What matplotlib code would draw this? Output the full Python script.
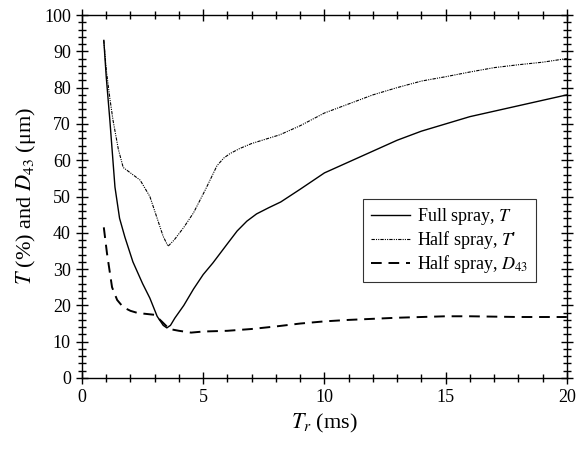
import numpy as np
import matplotlib
matplotlib.use('Agg')
import matplotlib.pyplot as plt
from matplotlib.ticker import MultipleLocator

plt.rcParams['font.family'] = ['Liberation Serif', 'STIXGeneral', 'DejaVu Serif']
plt.rcParams['mathtext.fontset'] = 'stix'

# Full spray, T
tr_full = [0.9, 1.0, 1.15, 1.36, 1.55, 1.77, 2.1, 2.5, 2.8, 3.1, 3.35, 3.5, 3.65, 3.83, 4.2, 4.6, 5.0, 5.4, 6.0, 6.4, 6.8, 7.2, 7.7, 8.2, 9.0, 10.0, 11.0, 12.0, 13.0, 14.0, 15.0, 16.0, 17.0, 18.0, 19.0, 20.0]
t_full = [93.0, 83.0, 71.0, 52.6, 44.0, 38.8, 32.0, 26.0, 22.0, 17.0, 14.5, 13.8, 14.5, 16.5, 20.0, 24.5, 28.5, 31.7, 37.0, 40.5, 43.2, 45.2, 46.9, 48.5, 52.0, 56.5, 59.5, 62.5, 65.5, 68.0, 70.0, 72.0, 73.5, 75.0, 76.5, 78.0]

# Half spray, T'
tr_half = [0.9, 1.0, 1.15, 1.28, 1.5, 1.7, 2.0, 2.4, 2.8, 3.1, 3.35, 3.55, 3.8, 4.2, 4.6, 5.1, 5.57, 5.85, 6.1, 6.5, 7.0, 8.16, 9.0, 10.0, 11.0, 12.0, 13.0, 14.0, 15.0, 16.0, 17.0, 18.0, 19.0, 20.0]
t_half = [93.0, 85.0, 77.0, 71.0, 63.0, 58.0, 56.5, 54.5, 50.0, 44.0, 39.0, 36.3, 38.0, 41.5, 45.5, 52.0, 58.5, 60.6, 61.8, 63.2, 64.6, 67.0, 69.5, 73.0, 75.5, 78.0, 80.0, 81.8, 83.0, 84.3, 85.5, 86.3, 87.0, 88.0]

# Half spray, D43
tr_d43 = [0.9, 1.03, 1.24, 1.45, 1.7, 2.0, 2.3, 3.0, 3.3, 3.6, 4.0, 4.5, 5.0, 6.0, 7.0, 8.0, 9.0, 10.0, 11.0, 12.0, 13.0, 14.0, 15.0, 16.0, 17.0, 18.0, 19.0, 20.0]
d43 = [41.5, 34.4, 25.0, 21.5, 19.5, 18.5, 17.9, 17.4, 15.5, 13.5, 13.0, 12.5, 12.8, 13.0, 13.5, 14.2, 15.0, 15.6, 16.0, 16.3, 16.6, 16.8, 17.0, 17.0, 16.9, 16.8, 16.8, 16.8]

fig = plt.figure(figsize=(5.79, 4.51), dpi=100)
ax = fig.add_axes([0.1416, 0.1619, 0.8374, 0.8048])

ax.plot(tr_full, t_full, '-', color='black', lw=1.0, label='Full spray, $T$')
ax.plot(tr_half, t_half, color='black', lw=0.8, linestyle=(0, (3, 1, 1, 1, 1, 1)), label="Half spray, $T$'")
ax.plot(tr_d43, d43, color='black', lw=1.4, linestyle=(0, (5.5, 3.5)), label='Half spray, $D_{43}$')

ax.set_xlim(0, 20)
ax.set_ylim(0, 100)
ax.xaxis.set_major_locator(MultipleLocator(5))
ax.xaxis.set_minor_locator(MultipleLocator(1))
ax.yaxis.set_major_locator(MultipleLocator(10))
ax.yaxis.set_minor_locator(MultipleLocator(2))
ax.tick_params(which='both', direction='inout', top=True, right=True, labelsize=13, width=1)
ax.tick_params(which='major', length=9)
ax.tick_params(which='minor', length=6)
for s in ax.spines.values():
    s.set_linewidth(1)

ax.set_xlabel('$T_r$ (ms)', fontsize=16)
ax.set_ylabel('$T$ (%) and $D_{43}$ (μm)', fontsize=16)

leg = ax.legend(loc='lower right', bbox_to_anchor=(0.936, 0.264), fontsize=13, frameon=True,
                fancybox=False, edgecolor='black', handlelength=2.2, borderpad=0.4,
                labelspacing=0.1, handletextpad=0.4, borderaxespad=0)
leg.get_frame().set_linewidth(0.8)

fig.savefig('out.png', dpi=100)
